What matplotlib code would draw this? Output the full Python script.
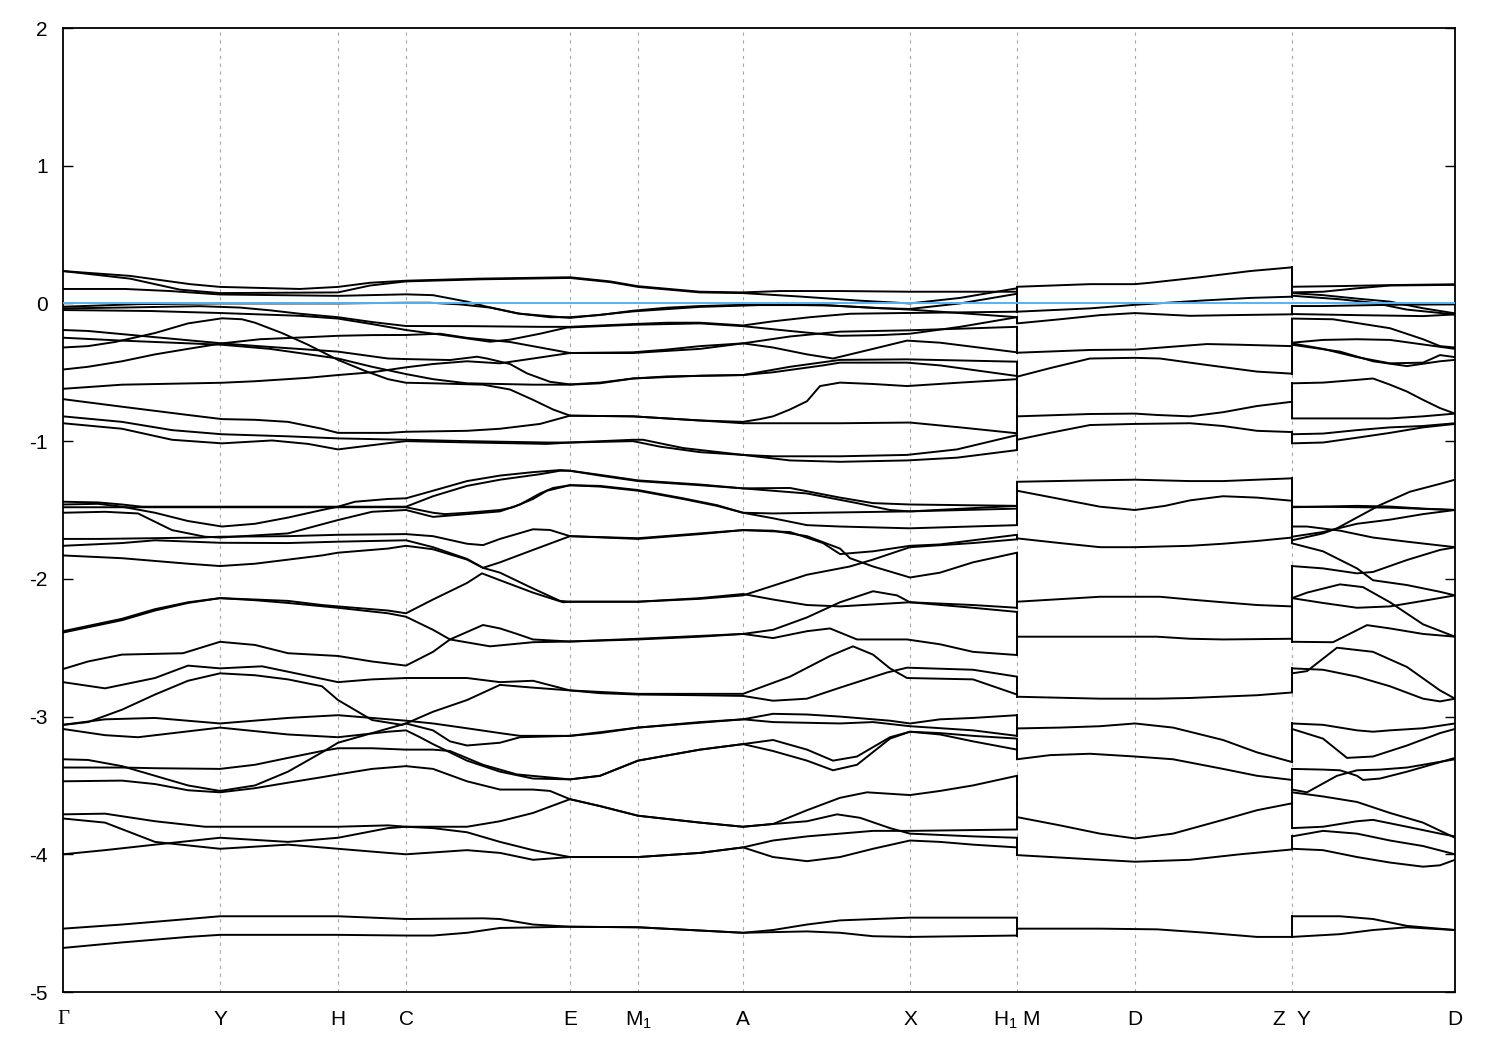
import matplotlib
matplotlib.use("Agg")
import matplotlib.pyplot as plt

plt.rcParams['font.family'] = ['Liberation Sans', 'DejaVu Sans']
plt.rcParams['axes.unicode_minus'] = False
plt.rcParams['mathtext.fontset'] = 'custom'
plt.rcParams['mathtext.rm'] = 'Liberation Sans'
plt.rcParams['mathtext.it'] = 'Liberation Sans'

# ---------------- path / ticks ----------------
K_TICKS = [0, 157, 275, 343, 507, 575, 680, 847, 954, 1072, 1229, 1392]
TICK_LABELS = ['Γ', 'Y', 'H', 'C', 'E', 'M$_1$', 'A', 'X', 'H$_1$ M', 'D', 'Z  Y', 'D']
Y_TICKS = [-5, -4, -3, -2, -1, 0, 1, 2]
FERMI = 0.0

# ---------------- segment 1: Γ-Y-H-C-E-M1-A-X-H1 ----------------
SEG1_TOP = [
    [(0,.235),(67,.20),(127,.14),(157,.12),(237,.105),(275,.12),(307,.15),(343,.165),(417,.18),(507,.19),(547,.16),(575,.125),(637,.085),(680,.08),(717,.09),(777,.09),(847,.085),(954,.085)],
    [(0,.235),(67,.18),(117,.10),(157,.075),(275,.08),(307,.13),(343,.16),(417,.175),(507,.185),(547,.155),(575,.12),(637,.08),(680,.075),(737,.05),(797,.02),(847,.0),(897,.04),(954,.11)],
    [(0,.105),(62,.105),(107,.09),(157,.065),(275,.055),(343,.066),(370,.06),(404,.013),(424,-.024),(454,-.072),(487,-.10),(507,-.10),(537,-.084),(570,-.053),(604,-.031),(637,-.019),(697,-.007),(767,-.015),(817,-.035),(847,-.04),(897,.0),(954,.07)],
    [(0,-.024),(77,-.005),(157,.0),(275,.0),(343,.005),(367,.005),(397,-.007),(427,-.03),(457,-.075),(507,-.105),(570,-.058),(637,-.025),(697,-.012),(760,-.012),(807,-.03),(847,-.045),(897,-.07),(954,-.10)],
    [(0,-.036),(59,-.03),(137,-.02),(177,-.03),(207,-.05),(237,-.075),(275,-.10),(309,-.135),(343,-.164),(407,-.165),(477,-.17),(507,-.17),(570,-.15),(604,-.14),(637,-.14),(670,-.155),(680,-.16),(710,-.13),(747,-.10),(787,-.075),(837,-.07),(897,-.065),(954,-.06)],
    [(0,-.048),(87,-.055),(159,-.07),(237,-.09),(275,-.11),(309,-.15),(343,-.193),(380,-.229),(427,-.278),(447,-.263),(477,-.22),(504,-.175),(570,-.155),(637,-.145),(680,-.165),(727,-.20),(777,-.235),(817,-.23),(847,-.22),(897,-.17),(954,-.10)],
    [(0,-.193),(25,-.20),(92,-.245),(159,-.29),(195,-.31),(245,-.335),(275,-.35),(325,-.40),(343,-.404),(387,-.411),(414,-.387),(424,-.40),(447,-.44),(464,-.508),(487,-.569),(507,-.588),(537,-.575),(570,-.545),(604,-.53),(680,-.52),(727,-.46),(777,-.41),(844,-.406),(954,-.423)],
    [(0,-.249),(59,-.27),(159,-.30),(207,-.33),(275,-.40),(309,-.46),(343,-.513),(370,-.55),(404,-.58),(470,-.59),(507,-.59),(537,-.58),(570,-.545),(637,-.525),(680,-.52),(710,-.50),(760,-.45),(777,-.43),(844,-.43),(877,-.45),(954,-.527)],
    [(0,-.32),(25,-.31),(52,-.28),(92,-.215),(125,-.145),(159,-.108),(179,-.115),(192,-.14),(219,-.215),(245,-.30),(275,-.41),(302,-.49),(325,-.55),(343,-.576),(370,-.58),(420,-.59),(447,-.625),(470,-.70),(490,-.77),(507,-.815),(570,-.82),(637,-.85),(680,-.86),(697,-.84),(710,-.82),(727,-.77),(744,-.71),(757,-.60),(777,-.575),(810,-.585),(844,-.60),(897,-.575),(954,-.55)],
    [(0,-.48),(25,-.46),(59,-.42),(92,-.37),(125,-.33),(159,-.29),(197,-.26),(245,-.245),(275,-.235),(309,-.23),(343,-.229),(377,-.22),(404,-.25),(447,-.28),(477,-.32),(507,-.36),(570,-.36),(637,-.33),(680,-.29),(727,-.24),(777,-.205),(847,-.195),(954,-.17)],
    [(0,-.62),(59,-.59),(159,-.576),(192,-.565),(245,-.54),(275,-.52),(309,-.50),(343,-.464),(370,-.44),(404,-.42),(437,-.435),(470,-.40),(507,-.36),(570,-.355),(604,-.335),(637,-.31),(680,-.29),(710,-.32),(744,-.37),(770,-.40),(810,-.33),(844,-.27),(877,-.285),(954,-.355)],
    [(0,-.695),(59,-.75),(125,-.81),(159,-.84),(192,-.845),(225,-.86),(259,-.91),(275,-.94),(325,-.94),(343,-.932),(404,-.925),(437,-.91),(477,-.875),(497,-.835),(507,-.815),(570,-.82),(637,-.85),(680,-.87),(777,-.87),(847,-.865),(897,-.90),(954,-.943)],
    [(0,-.82),(59,-.86),(109,-.92),(159,-.95),(225,-.965),(275,-.98),(343,-.99),(404,-1.0),(484,-1.01),(507,-1.01),(570,-.99),(580,-.99),(620,-1.05),(680,-1.10),(710,-1.11),(777,-1.11),(844,-1.10),(894,-1.06),(954,-.956)],
    [(0,-.87),(59,-.91),(109,-.99),(159,-1.016),(209,-.995),(245,-1.02),(275,-1.06),(325,-1.015),(343,-1.0),(410,-1.01),(484,-1.02),(507,-1.01),(570,-1.0),(597,-1.04),(637,-1.08),(680,-1.10),(727,-1.14),(777,-1.15),(844,-1.14),(894,-1.12),(954,-1.065)],
]

SEG1_MID = [
    [(0,-1.44),(35,-1.445),(59,-1.46),(79,-1.476),(275,-1.476),(343,-1.476),(370,-1.40),(404,-1.325),(437,-1.28),(477,-1.24),(497,-1.215),(507,-1.215),(537,-1.245),(575,-1.285),(637,-1.315),(680,-1.343),(744,-1.38),(794,-1.45),(827,-1.50),(847,-1.51),(954,-1.47)],
    [(0,-1.46),(35,-1.455),(59,-1.476),(92,-1.52),(125,-1.58),(159,-1.62),(192,-1.60),(225,-1.555),(259,-1.50),(275,-1.476),(292,-1.44),(325,-1.42),(343,-1.415),(370,-1.36),(404,-1.29),(437,-1.25),(470,-1.225),(497,-1.21),(507,-1.215),(537,-1.25),(575,-1.29),(637,-1.32),(680,-1.343),(727,-1.34),(777,-1.41),(810,-1.45),(847,-1.46),(954,-1.47)],
    [(0,-1.52),(42,-1.513),(75,-1.525),(109,-1.646),(142,-1.694),(157,-1.70),(225,-1.67),(275,-1.573),(309,-1.513),(343,-1.50),(370,-1.55),(404,-1.53),(437,-1.51),(457,-1.46),(477,-1.38),(490,-1.34),(507,-1.32),(537,-1.33),(575,-1.36),(620,-1.42),(654,-1.47),(680,-1.52),(710,-1.56),(744,-1.61),(777,-1.62),(847,-1.633),(954,-1.61)],
    [(0,-1.48),(79,-1.48),(275,-1.48),(343,-1.48),(370,-1.52),(382,-1.53),(404,-1.52),(437,-1.50),(450,-1.48),(470,-1.42),(484,-1.36),(507,-1.32),(537,-1.325),(575,-1.355),(620,-1.415),(654,-1.465),(680,-1.52),(710,-1.525),(847,-1.51),(954,-1.49)],
    [(0,-1.71),(37,-1.71),(137,-1.70),(157,-1.694),(225,-1.69),(275,-1.68),(343,-1.675),(370,-1.69),(404,-1.745),(420,-1.755),(437,-1.71),(470,-1.64),(487,-1.645),(507,-1.69),(575,-1.71),(637,-1.675),(680,-1.646),(710,-1.65),(744,-1.69),(777,-1.78),(787,-1.85),(810,-1.91),(847,-1.99),(877,-1.955),(910,-1.88),(954,-1.81)],
    [(0,-1.76),(59,-1.74),(92,-1.72),(157,-1.738),(225,-1.74),(275,-1.73),(343,-1.72),(370,-1.77),(404,-1.855),(420,-1.92),(437,-1.955),(470,-2.07),(497,-2.16),(507,-2.166),(575,-2.166),(637,-2.145),(680,-2.12),(710,-2.05),(744,-1.97),(787,-1.91),(810,-1.86),(847,-1.77),(910,-1.74),(954,-1.713)],
    [(0,-1.83),(59,-1.85),(125,-1.89),(157,-1.907),(192,-1.89),(259,-1.83),(275,-1.81),(325,-1.78),(343,-1.76),(370,-1.785),(404,-1.86),(420,-1.92),(437,-1.88),(470,-1.79),(507,-1.69),(575,-1.705),(637,-1.67),(680,-1.646),(727,-1.66),(760,-1.74),(777,-1.82),(810,-1.80),(847,-1.76),(877,-1.75),(954,-1.68)],
    [(0,-2.38),(59,-2.29),(92,-2.22),(125,-2.17),(157,-2.14),(192,-2.15),(225,-2.16),(259,-2.19),(275,-2.20),(325,-2.23),(343,-2.25),(370,-2.15),(404,-2.03),(419,-1.96),(437,-2.01),(470,-2.10),(500,-2.17),(507,-2.166),(575,-2.166),(637,-2.14),(680,-2.11),(710,-2.15),(744,-2.19),(777,-2.20),(847,-2.17),(910,-2.19),(954,-2.21)],
    [(0,-2.39),(59,-2.30),(92,-2.23),(125,-2.175),(157,-2.14),(192,-2.155),(225,-2.175),(275,-2.21),(325,-2.25),(343,-2.275),(370,-2.37),(387,-2.44),(427,-2.49),(470,-2.46),(507,-2.455),(575,-2.44),(637,-2.42),(680,-2.40),(710,-2.37),(744,-2.28),(777,-2.17),(810,-2.09),(834,-2.12),(847,-2.17),(910,-2.21),(954,-2.24)],
    [(0,-2.655),(25,-2.60),(59,-2.55),(120,-2.54),(157,-2.457),(192,-2.48),(225,-2.54),(275,-2.56),(309,-2.60),(343,-2.63),(370,-2.53),(387,-2.44),(420,-2.335),(437,-2.36),(454,-2.40),(470,-2.44),(507,-2.455),(575,-2.435),(680,-2.40),(710,-2.43),(744,-2.38),(767,-2.36),(794,-2.44),(844,-2.44),(877,-2.475),(910,-2.53),(954,-2.553)],
    [(0,-2.75),(42,-2.795),(92,-2.72),(125,-2.63),(157,-2.65),(199,-2.635),(242,-2.70),(275,-2.75),(309,-2.73),(343,-2.72),(404,-2.72),(437,-2.75),(470,-2.74),(507,-2.81),(537,-2.83),(575,-2.84),(637,-2.845),(680,-2.85),(710,-2.885),(744,-2.87),(777,-2.79),(824,-2.68),(844,-2.645),(910,-2.66),(954,-2.71)],
    [(0,-3.06),(25,-3.04),(59,-2.95),(92,-2.84),(125,-2.74),(157,-2.686),(192,-2.70),(225,-2.73),(259,-2.78),(275,-2.88),(309,-3.025),(339,-3.06),(343,-3.05),(370,-2.965),(404,-2.88),(437,-2.77),(470,-2.79),(507,-2.81),(575,-2.835),(680,-2.835),(727,-2.71),(767,-2.56),(790,-2.49),(810,-2.55),(827,-2.65),(844,-2.72),(910,-2.73),(954,-2.84)],
]

SEG1_LOW = [
    [(0,-3.06),(42,-3.02),(92,-3.01),(157,-3.05),(225,-3.01),(275,-2.99),(309,-3.01),(343,-3.03),(370,-3.05),(404,-3.085),(437,-3.12),(457,-3.14),(507,-3.14),(537,-3.12),(575,-3.08),(637,-3.04),(680,-3.02),(710,-2.98),(744,-2.985),(777,-3.0),(827,-3.03),(847,-3.05),(877,-3.02),(910,-3.01),(954,-2.99)],
    [(0,-3.09),(42,-3.135),(75,-3.15),(157,-3.08),(225,-3.13),(275,-3.15),(325,-3.11),(343,-3.10),(357,-3.15),(370,-3.20),(404,-3.32),(437,-3.40),(470,-3.45),(507,-3.456),(537,-3.43),(575,-3.32),(637,-3.24),(680,-3.20),(710,-3.17),(744,-3.24),(770,-3.32),(794,-3.29),(827,-3.15),(847,-3.11),(877,-3.12),(910,-3.14),(954,-3.16)],
    [(0,-3.31),(25,-3.315),(59,-3.36),(92,-3.43),(125,-3.50),(157,-3.54),(192,-3.50),(225,-3.40),(259,-3.26),(275,-3.19),(309,-3.12),(343,-3.05),(370,-3.10),(387,-3.18),(404,-3.21),(437,-3.19),(457,-3.15),(507,-3.14),(575,-3.08),(680,-3.02),(710,-3.04),(777,-3.05),(810,-3.04),(847,-3.07),(910,-3.10),(954,-3.14)],
    [(0,-3.37),(59,-3.37),(92,-3.375),(157,-3.38),(192,-3.35),(225,-3.30),(259,-3.25),(275,-3.23),(309,-3.23),(343,-3.24),(370,-3.24),(387,-3.25),(420,-3.35),(454,-3.42),(507,-3.456),(537,-3.43),(575,-3.32),(637,-3.24),(680,-3.20),(710,-3.25),(744,-3.32),(770,-3.39),(794,-3.35),(827,-3.16),(847,-3.11),(877,-3.13),(910,-3.18),(954,-3.24)],
    [(0,-3.47),(59,-3.465),(92,-3.49),(125,-3.535),(157,-3.55),(192,-3.52),(225,-3.48),(259,-3.44),(275,-3.42),(309,-3.38),(343,-3.36),(370,-3.38),(404,-3.47),(437,-3.53),(470,-3.53),(487,-3.54),(507,-3.60),(537,-3.65),(575,-3.72),(637,-3.77),(680,-3.80),(710,-3.78),(744,-3.68),(777,-3.59),(804,-3.55),(847,-3.57),(877,-3.54),(910,-3.50),(954,-3.43)],
    [(0,-3.71),(42,-3.705),(92,-3.76),(142,-3.80),(157,-3.80),(225,-3.80),(275,-3.80),(325,-3.79),(343,-3.80),(404,-3.80),(437,-3.76),(470,-3.70),(507,-3.60),(537,-3.65),(575,-3.72),(637,-3.77),(680,-3.80),(710,-3.78),(744,-3.76),(774,-3.71),(797,-3.735),(827,-3.81),(847,-3.85),(910,-3.87),(954,-3.88)],
    [(0,-3.74),(42,-3.77),(92,-3.91),(157,-3.96),(225,-3.93),(275,-3.96),(325,-3.99),(343,-4.0),(404,-3.97),(437,-3.99),(470,-4.04),(507,-4.02),(575,-4.02),(637,-3.99),(680,-3.95),(710,-3.90),(744,-3.87),(777,-3.85),(810,-3.83),(847,-3.83),(954,-3.82)],
    [(0,-4.0),(42,-3.97),(92,-3.93),(157,-3.88),(225,-3.91),(275,-3.88),(325,-3.81),(343,-3.80),(370,-3.81),(404,-3.84),(437,-3.91),(470,-3.97),(507,-4.02),(575,-4.02),(637,-3.99),(680,-3.95),(710,-4.02),(744,-4.05),(777,-4.02),(810,-3.96),(847,-3.90),(877,-3.91),(910,-3.93),(954,-3.95)],
    [(0,-4.54),(59,-4.51),(125,-4.47),(157,-4.45),(275,-4.45),(343,-4.47),(420,-4.465),(437,-4.47),(470,-4.51),(507,-4.526),(575,-4.53),(680,-4.57),(710,-4.55),(744,-4.51),(777,-4.48),(847,-4.46),(954,-4.46)],
    [(0,-4.68),(59,-4.64),(125,-4.60),(157,-4.585),(275,-4.585),(343,-4.59),(370,-4.59),(404,-4.57),(437,-4.535),(507,-4.526),(575,-4.53),(680,-4.57),(744,-4.56),(777,-4.57),(810,-4.595),(847,-4.60),(954,-4.59)],
]

# ---------------- segment 2: M-D-Z ----------------
SEG2_BANDS = [
    [(954,.121),(1027,.14),(1072,.14),(1087,.15),(1137,.19),(1187,.235),(1229,.262)],
    [(954,-.06),(1027,-.036),(1072,-.01),(1137,.02),(1187,.04),(1229,.049)],
    [(954,-.145),(997,-.115),(1037,-.085),(1072,-.07),(1127,-.09),(1167,-.085),(1229,-.079)],
    [(954,-.358),(1027,-.338),(1072,-.335),(1117,-.31),(1144,-.295),(1177,-.30),(1229,-.31)],
    [(954,-.532),(987,-.47),(1027,-.40),(1072,-.395),(1097,-.40),(1144,-.447),(1194,-.495),(1229,-.51)],
    [(954,-.82),(1027,-.803),(1072,-.80),(1094,-.81),(1127,-.82),(1160,-.79),(1194,-.745),(1229,-.714)],
    [(954,-.99),(987,-.94),(1027,-.883),(1072,-.875),(1127,-.87),(1160,-.89),(1194,-.925),(1229,-.934)],
    [(954,-1.295),(1027,-1.285),(1072,-1.28),(1127,-1.29),(1160,-1.29),(1194,-1.28),(1229,-1.27)],
    [(954,-1.36),(997,-1.42),(1037,-1.476),(1072,-1.50),(1102,-1.47),(1127,-1.43),(1160,-1.40),(1194,-1.41),(1229,-1.433)],
    [(954,-1.706),(997,-1.74),(1037,-1.77),(1072,-1.77),(1127,-1.76),(1160,-1.745),(1194,-1.725),(1229,-1.70)],
    [(954,-2.166),(1037,-2.13),(1072,-2.13),(1097,-2.13),(1127,-2.15),(1160,-2.17),(1194,-2.19),(1229,-2.20)],
    [(954,-2.42),(1037,-2.42),(1094,-2.42),(1127,-2.435),(1160,-2.44),(1229,-2.435)],
    [(954,-2.856),(1037,-2.87),(1094,-2.87),(1127,-2.865),(1194,-2.845),(1229,-2.825)],
    [(954,-3.086),(997,-3.08),(1037,-3.07),(1072,-3.05),(1110,-3.08),(1160,-3.17),(1194,-3.26),(1229,-3.33)],
    [(954,-3.31),(987,-3.28),(1027,-3.27),(1072,-3.29),(1110,-3.31),(1160,-3.38),(1194,-3.43),(1229,-3.46)],
    [(954,-3.73),(997,-3.79),(1037,-3.85),(1072,-3.885),(1110,-3.85),(1160,-3.75),(1194,-3.68),(1229,-3.63)],
    [(954,-4.006),(1037,-4.04),(1072,-4.054),(1127,-4.04),(1177,-4.0),(1229,-3.965)],
    [(954,-4.54),(1037,-4.54),(1094,-4.545),(1144,-4.57),(1194,-4.60),(1229,-4.60)],
]
SEG2_DEGENERACY = 2

# ---------------- segment 3: Y-D ----------------
SEG3_TOP = [
    [(1229,.121),(1277,.126),(1327,.133),(1392,.139)],
    [(1229,.08),(1260,.085),(1294,.11),(1327,.13),(1392,.135)],
    [(1229,.075),(1260,.06),(1294,.035),(1327,.013),(1360,-.035),(1392,-.072)],
    [(1229,.056),(1277,.03),(1310,.005),(1344,-.045),(1392,-.08)],
    [(1229,-.019),(1260,-.019),(1327,-.01),(1392,-.007)],
    [(1229,-.077),(1294,-.085),(1360,-.092),(1392,-.08)],
    [(1229,-.11),(1270,-.115),(1327,-.18),(1360,-.26),(1377,-.31),(1392,-.32)],
    [(1229,-.285),(1260,-.265),(1294,-.26),(1327,-.265),(1392,-.33)],
    [(1229,-.29),(1260,-.33),(1294,-.39),(1327,-.435),(1360,-.43),(1377,-.375),(1392,-.39)],
    [(1229,-.30),(1277,-.35),(1310,-.42),(1344,-.455),(1377,-.42),(1392,-.41)],
    [(1229,-.58),(1260,-.575),(1294,-.555),(1310,-.545),(1327,-.59),(1344,-.64),(1360,-.70),(1377,-.76),(1392,-.80)],
    [(1229,-.835),(1327,-.835),(1360,-.82),(1392,-.80)],
    [(1229,-.95),(1260,-.945),(1294,-.92),(1327,-.90),(1360,-.89),(1392,-.87)],
    [(1229,-1.016),(1260,-1.01),(1294,-.975),(1327,-.94),(1360,-.90),(1392,-.875)],
]
SEG3_MID = [
    [(1229,-1.48),(1260,-1.475),(1294,-1.47),(1327,-1.475),(1360,-1.49),(1392,-1.50)],
    [(1229,-1.476),(1277,-1.478),(1327,-1.483),(1392,-1.50)],
    [(1229,-1.62),(1244,-1.62),(1277,-1.65),(1310,-1.70),(1344,-1.73),(1392,-1.77)],
    [(1229,-1.72),(1260,-1.67),(1274,-1.633),(1317,-1.464),(1347,-1.367),(1377,-1.31),(1392,-1.28)],
    [(1229,-1.694),(1260,-1.66),(1294,-1.60),(1327,-1.57),(1360,-1.53),(1392,-1.50)],
    [(1229,-1.742),(1260,-1.80),(1294,-1.924),(1310,-2.01),(1344,-2.045),(1377,-2.094),(1392,-2.12)],
    [(1229,-1.907),(1260,-1.924),(1294,-1.96),(1310,-1.95),(1344,-1.863),(1377,-1.79),(1392,-1.771)],
    [(1229,-2.14),(1244,-2.10),(1277,-2.04),(1300,-2.06),(1327,-2.17),(1360,-2.33),(1392,-2.42)],
    [(1229,-2.14),(1260,-2.175),(1294,-2.21),(1327,-2.20),(1360,-2.16),(1392,-2.12)],
    [(1229,-2.457),(1270,-2.46),(1304,-2.336),(1327,-2.36),(1360,-2.40),(1392,-2.42)],
    [(1229,-2.686),(1244,-2.67),(1274,-2.50),(1310,-2.53),(1344,-2.64),(1377,-2.81),(1392,-2.87)],
    [(1229,-2.65),(1260,-2.66),(1294,-2.71),(1327,-2.78),(1360,-2.87),(1377,-2.89),(1392,-2.87)],
]
SEG3_LOW = [
    [(1229,-3.05),(1260,-3.06),(1294,-3.10),(1310,-3.11),(1327,-3.10),(1360,-3.085),(1392,-3.05)],
    [(1229,-3.09),(1260,-3.16),(1284,-3.30),(1310,-3.29),(1344,-3.21),(1377,-3.12),(1392,-3.09)],
    [(1229,-3.38),(1260,-3.385),(1277,-3.39),(1294,-3.43),(1300,-3.46),(1317,-3.45),(1344,-3.40),(1392,-3.30)],
    [(1229,-3.53),(1244,-3.55),(1274,-3.43),(1294,-3.39),(1317,-3.385),(1344,-3.37),(1392,-3.31)],
    [(1229,-3.55),(1260,-3.58),(1294,-3.62),(1327,-3.70),(1360,-3.77),(1392,-3.88)],
    [(1229,-3.81),(1260,-3.80),(1294,-3.76),(1310,-3.75),(1344,-3.80),(1377,-3.85),(1392,-3.87)],
    [(1229,-3.87),(1260,-3.83),(1294,-3.85),(1327,-3.90),(1360,-3.94),(1392,-4.0)],
    [(1229,-3.96),(1260,-3.97),(1294,-4.02),(1327,-4.06),(1360,-4.09),(1377,-4.08),(1392,-4.04)],
    [(1229,-4.45),(1277,-4.45),(1310,-4.47),(1344,-4.52),(1392,-4.55)],
    [(1229,-4.60),(1277,-4.58),(1310,-4.55),(1344,-4.53),(1392,-4.55)],
]

BAND_COLOR = 'black'
FERMI_COLOR = '#56b4e9'
GRID_COLOR = '#a8a8a8'

# ---------------- drawing ----------------
fig = plt.figure(figsize=(15, 10.5), dpi=100)
ax = fig.add_axes([63/1500, 1-992/1050, (1455-63)/1500, (992-28)/1050])

seg1 = SEG1_TOP + SEG1_MID + SEG1_LOW
seg2 = SEG2_BANDS
seg3 = SEG3_TOP + SEG3_MID + SEG3_LOW

for band in seg1 + seg2 + seg3:
    ks = [p[0] for p in band]
    es = [p[1] for p in band]
    ax.plot(ks, es, color=BAND_COLOR, lw=1.4, solid_joinstyle='round', zorder=3)


def connect(k, ends, starts):
    a = sorted(ends)
    b = sorted(starts)
    if len(a) < len(b):
        a, b = b, a
    n1, n2 = len(a), len(b)
    for i, e in enumerate(a):
        j = int(round(i * (n2 - 1) / (n1 - 1)))
        ax.plot([k, k], [e, b[j]], color=BAND_COLOR, lw=1.4, zorder=3)


seg1_end = [b[-1][1] for b in seg1]
seg2_start = [b[0][1] for b in seg2 for _ in range(SEG2_DEGENERACY)]
seg2_end = [b[-1][1] for b in seg2 for _ in range(SEG2_DEGENERACY)]
seg3_start = [b[0][1] for b in seg3]
connect(seg1[0][-1][0], seg1_end, seg2_start)
connect(seg2[0][-1][0], seg2_end, seg3_start)

for k in K_TICKS[1:-1]:
    ax.axvline(k, color=GRID_COLOR, lw=0.8, ls=(0, (3, 4)), zorder=1)

ax.axhline(FERMI, color=FERMI_COLOR, lw=1.4, zorder=5)

ax.set_xlim(K_TICKS[0], K_TICKS[-1])
ax.set_ylim(min(Y_TICKS), max(Y_TICKS))
ax.set_yticks(Y_TICKS)
ax.set_yticklabels([str(v) for v in Y_TICKS])
ax.set_xticks(K_TICKS)
ax.set_xticklabels(TICK_LABELS)
for lab in ax.get_xticklabels():
    if lab.get_text() == 'Γ':
        lab.set_family(['Liberation Serif', 'DejaVu Serif'])

ax.tick_params(axis='y', direction='in', length=7, width=1.0, left=True, right=True,
               labelsize=15, pad=11)
ax.tick_params(axis='x', direction='in', length=0, labelsize=15, pad=13)
for sp in ax.spines.values():
    sp.set_linewidth(1.3)
    sp.set_color('black')

fig.savefig('out.png', dpi=100)
